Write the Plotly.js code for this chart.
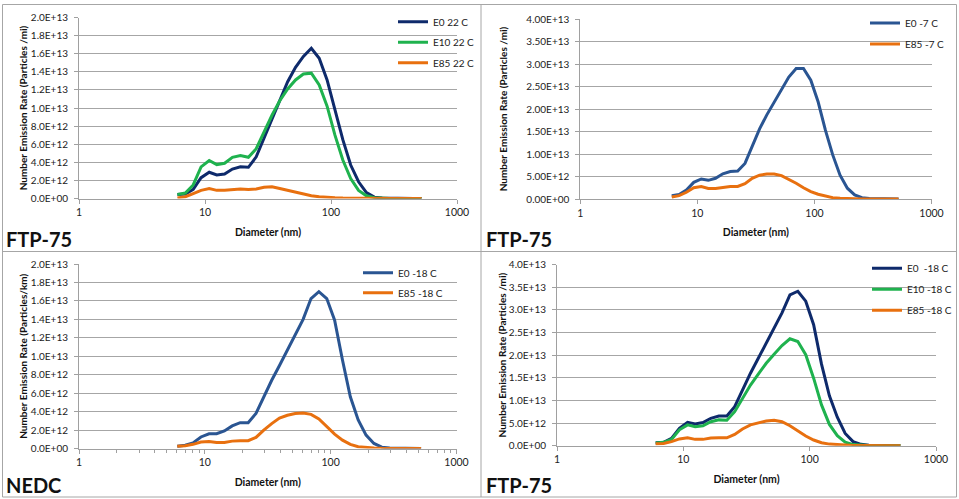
<!DOCTYPE html>
<html>
<head>
<meta charset="utf-8">
<script src="https://cdn.plot.ly/plotly-3.0.1.min.js"></script>
<style>
  html, body { margin: 0; padding: 0; background: #ffffff; }
  #chart { width: 959px; height: 499px; }
</style>
</head>
<body>
<div id="chart"></div>
<script>
// Particle size bins (mobility diameter, nm)
const diameter = [6.04, 6.98, 8.06, 9.31, 10.8, 12.4, 14.3, 16.5, 19.1, 22.1, 25.5, 29.4,
  34.0, 39.2, 45.3, 52.3, 60.4, 69.8, 80.6, 93.1, 107.5, 124.1, 143.3, 165.5,
  191.1, 220.7, 254.8, 294.3, 339.8, 392.4, 453.2, 523.3];

// FTP-75, 22 C (particles / mi)
const ftp22_E0 = [0.44e12, 0.5e12, 1.0e12, 2.3e12, 2.9e12, 2.6e12, 2.7e12, 3.25e12, 3.5e12, 3.45e12, 4.6e12, 6.65e12,
  8.9e12, 10.9e12, 12.9e12, 14.5e12, 15.7e12, 16.6e12, 15.5e12, 13.1e12, 9.8e12, 6.5e12, 3.7e12, 1.85e12,
  0.65e12, 0.15e12, 0.05e12, 0.02e12, 0.01e12, 0.005e12, 0.003e12, 0.002e12];
const ftp22_E10 = [0.45e12, 0.6e12, 1.5e12, 3.5e12, 4.2e12, 3.75e12, 3.9e12, 4.55e12, 4.75e12, 4.55e12, 5.5e12, 7.4e12,
  9.2e12, 10.8e12, 12.1e12, 13.1e12, 13.75e12, 13.85e12, 12.55e12, 10.2e12, 7.0e12, 4.25e12, 2.2e12, 0.9e12,
  0.3e12, 0.08e12, 0.02e12, 0.01e12, 0.005e12, 0.003e12, 0.002e12, 0.001e12];
const ftp22_E85 = [0.07e12, 0.2e12, 0.55e12, 0.9e12, 1.1e12, 0.9e12, 0.9e12, 1.0e12, 1.05e12, 1.0e12, 1.05e12, 1.25e12,
  1.3e12, 1.1e12, 0.9e12, 0.65e12, 0.45e12, 0.3e12, 0.2e12, 0.12e12, 0.08e12, 0.05e12, 0.03e12, 0.02e12,
  0.01e12, 0.01e12, 0.005e12, 0.003e12, 0.002e12, 0.001e12, 0.001e12, 0.001e12];

// FTP-75, -7 C (particles / mi)
const ftpM7_E0 = [0.75e12, 1.0e12, 2.0e12, 3.7e12, 4.45e12, 4.15e12, 4.6e12, 5.6e12, 6.1e12, 6.2e12, 7.9e12, 11.9e12,
  15.6e12, 18.7e12, 21.6e12, 24.4e12, 27.1e12, 29.0e12, 29.0e12, 26.4e12, 21.6e12, 15.3e12, 9.8e12, 5.3e12,
  2.4e12, 0.9e12, 0.3e12, 0.1e12, 0.05e12, 0.02e12, 0.01e12, 0.01e12];
const ftpM7_E85 = [0.45e12, 0.75e12, 1.5e12, 2.5e12, 2.75e12, 2.35e12, 2.35e12, 2.65e12, 2.8e12, 2.8e12, 3.4e12, 4.6e12,
  5.3e12, 5.55e12, 5.55e12, 5.2e12, 4.4e12, 3.5e12, 2.5e12, 1.65e12, 1.05e12, 0.6e12, 0.3e12, 0.15e12,
  0.07e12, 0.04e12, 0.02e12, 0.01e12, 0.01e12, 0.005e12, 0.005e12, 0.003e12];

// NEDC, -18 C (particles / km)
const nedcM18_E0 = [0.25e12, 0.35e12, 0.6e12, 1.25e12, 1.6e12, 1.6e12, 1.9e12, 2.45e12, 2.8e12, 2.8e12, 3.8e12, 5.6e12,
  7.4e12, 9.0e12, 10.65e12, 12.3e12, 14.0e12, 16.25e12, 17.0e12, 16.25e12, 13.9e12, 9.6e12, 5.6e12, 3.1e12,
  1.45e12, 0.55e12, 0.15e12, 0.05e12, 0.02e12, 0.01e12, 0.005e12, 0.003e12];
const nedcM18_E85 = [0.25e12, 0.3e12, 0.45e12, 0.7e12, 0.75e12, 0.65e12, 0.65e12, 0.8e12, 0.85e12, 0.85e12, 1.2e12, 2.0e12,
  2.7e12, 3.3e12, 3.6e12, 3.8e12, 3.85e12, 3.7e12, 3.2e12, 2.35e12, 1.55e12, 0.9e12, 0.45e12, 0.2e12,
  0.1e12, 0.05e12, 0.02e12, 0.01e12, 0.005e12, 0.003e12, 0.002e12, 0.001e12];

// FTP-75, -18 C (particles / mi)
const ftpM18_E0 = [0.65e12, 0.75e12, 1.6e12, 3.85e12, 5.15e12, 4.8e12, 5.1e12, 6.05e12, 6.55e12, 6.55e12, 8.6e12, 12.3e12,
  16.0e12, 19.3e12, 22.6e12, 26.0e12, 29.3e12, 33.3e12, 34.1e12, 31.9e12, 26.7e12, 18.0e12, 11.0e12, 6.3e12,
  2.7e12, 0.9e12, 0.3e12, 0.1e12, 0.05e12, 0.02e12, 0.01e12, 0.01e12];
const ftpM18_E10 = [0.6e12, 0.75e12, 1.4e12, 3.5e12, 4.6e12, 4.2e12, 4.4e12, 5.3e12, 5.7e12, 5.6e12, 7.5e12, 10.5e12,
  13.4e12, 15.8e12, 18.2e12, 20.2e12, 22.1e12, 23.6e12, 23.0e12, 20.1e12, 14.9e12, 9.0e12, 4.7e12, 2.2e12,
  0.8e12, 0.25e12, 0.08e12, 0.03e12, 0.01e12, 0.005e12, 0.003e12, 0.002e12];
const ftpM18_E85 = [0.45e12, 0.5e12, 0.9e12, 1.5e12, 1.75e12, 1.4e12, 1.4e12, 1.7e12, 1.75e12, 1.75e12, 2.5e12, 3.7e12,
  4.6e12, 5.1e12, 5.45e12, 5.6e12, 5.3e12, 4.4e12, 3.25e12, 2.15e12, 1.25e12, 0.65e12, 0.35e12, 0.2e12,
  0.1e12, 0.05e12, 0.02e12, 0.01e12, 0.005e12, 0.003e12, 0.002e12, 0.001e12];

// Tick values and labels
const xTickVals = [1, 10, 100, 1000];
const xTickText = ['1', '10', '100', '1000'];
const yTicks2e13 = [0, 2e12, 4e12, 6e12, 8e12, 1e13, 1.2e13, 1.4e13, 1.6e13, 1.8e13, 2e13];
const yLabels2e13 = ['0.0E+00', '2.0E+12', '4.0E+12', '6.0E+12', '8.0E+12', '1.0E+13', '1.2E+13', '1.4E+13', '1.6E+13', '1.8E+13', '2.0E+13'];
const yTicks4e13 = [0, 5e12, 1e13, 1.5e13, 2e13, 2.5e13, 3e13, 3.5e13, 4e13];
const yLabels4e13two = ['0.00E+00', '5.00E+12', '1.00E+13', '1.50E+13', '2.00E+13', '2.50E+13', '3.00E+13', '3.50E+13', '4.00E+13'];
const yLabels4e13one = ['0.0E+00', '5.0E+12', '1.0E+13', '1.5E+13', '2.0E+13', '2.5E+13', '3.0E+13', '3.5E+13', '4.0E+13'];

const W = 959, H = 499;
const FONT = 'Lato, "Open Sans", sans-serif';
const NAVY = '#0E2A6B', BLUE = '#2A5592', GREEN = '#1FB24E', ORANGE = '#E8700F';
const GRID = '#A6A6A6', AXIS = '#A0A0A0';

const px = v => v / W;
const py = v => 1 - v / H;

function series(n, name, y, color, legend) {
  return {
    type: 'scatter', mode: 'lines', x: diameter, y: y, name: name,
    xaxis: 'x' + (n === 1 ? '' : n), yaxis: 'y' + (n === 1 ? '' : n),
    legend: legend, legendgroup: name + n,
    line: { color: color, width: 3 },
    hoverinfo: 'x+y+name'
  };
}

const traces = [
  series(1, 'E0 22 C', ftp22_E0, NAVY, 'legend'),
  series(1, 'E10 22 C', ftp22_E10, GREEN, 'legend'),
  series(1, 'E85 22 C', ftp22_E85, ORANGE, 'legend'),
  series(2, 'E0 -7 C', ftpM7_E0, BLUE, 'legend2'),
  series(2, 'E85 -7 C', ftpM7_E85, ORANGE, 'legend2'),
  series(3, 'E0 -18 C', nedcM18_E0, BLUE, 'legend3'),
  series(3, 'E85 -18 C', nedcM18_E85, ORANGE, 'legend3'),
  series(4, 'E0  -18 C', ftpM18_E0, NAVY, 'legend4'),
  series(4, 'E10 -18 C', ftpM18_E10, GREEN, 'legend4'),
  series(4, 'E85 -18 C', ftpM18_E85, ORANGE, 'legend4')
];

const minorVals = [];
for (const dec of [1, 10, 100]) for (let k = 2; k <= 9; k++) minorVals.push(k * dec);

function xAxis(domain, anchor, withMinor) {
  const ax = {
    type: 'log', range: [0, 3], domain: domain, anchor: anchor,
    tickmode: 'array', tickvals: xTickVals, ticktext: xTickText,
    ticks: 'outside', ticklen: 4, tickcolor: AXIS, tickwidth: 1,
    showline: true, linecolor: AXIS, linewidth: 1,
    showgrid: false, zeroline: false,
    tickfont: { family: FONT, size: 10.5, color: '#222' },
    title: { text: 'Diameter (nm)', standoff: 11, font: { family: FONT, size: 10.5, color: '#111', weight: 'bold' } },
    fixedrange: true
  };
  if (withMinor) {
    ax.minor = { tickmode: 'array', tickvals: minorVals, ticks: 'outside', ticklen: 3, tickcolor: AXIS, showgrid: false };
  }
  return ax;
}

function yAxis(domain, anchor, maxVal, vals, labels, title, standoff) {
  return {
    range: [0, maxVal], domain: domain, anchor: anchor,
    tickmode: 'array', tickvals: vals, ticktext: labels,
    ticks: 'outside', ticklen: 4, tickcolor: AXIS, tickwidth: 1,
    ticklabelstandoff: 4,
    showline: true, linecolor: AXIS, linewidth: 1,
    showgrid: true, gridcolor: GRID, gridwidth: 1, zeroline: false,
    tickfont: { family: FONT, size: 10, color: '#222' },
    title: { text: title, standoff: standoff, font: { family: FONT, size: 10, color: '#111', weight: 'bold' } },
    fixedrange: true
  };
}

function legendAt(left, top, gap) {
  return {
    x: px(left), y: py(top), xanchor: 'left', yanchor: 'top',
    bgcolor: 'rgba(0,0,0,0)', borderwidth: 0,
    traceorder: 'grouped', tracegroupgap: gap, itemwidth: 30,
    font: { family: FONT, size: 10, color: '#222' }
  };
}

function panelLabel(text, left, mid) {
  return {
    xref: 'paper', yref: 'paper', x: px(left), y: py(mid), xanchor: 'left', yanchor: 'middle',
    text: text, showarrow: false, borderpad: 0,
    font: { family: FONT, size: 20, color: '#111', weight: 'bold' }
  };
}

const frame = { type: 'line', xref: 'paper', yref: 'paper', line: { color: '#A6A6A6', width: 1 } };

const layout = {
  width: W, height: H, autosize: false,
  margin: { l: 0, r: 0, t: 0, b: 0, pad: 0 },
  paper_bgcolor: '#ffffff', plot_bgcolor: '#ffffff',
  showlegend: true,
  xaxis: xAxis([px(79), px(457)], 'y', false),
  yaxis: yAxis([py(198.5), py(17.5)], 'x', 2e13, yTicks2e13, yLabels2e13, 'Number Emission Rate (Particles /mi)', 1),
  xaxis2: xAxis([px(580.3), px(931.5)], 'y2', false),
  yaxis2: yAxis([py(199), py(19)], 'x2', 4e13, yTicks4e13, yLabels4e13two, 'Number Emission Rate (Particles /mi)', 16),
  xaxis3: xAxis([px(79), px(456.5)], 'y3', true),
  yaxis3: yAxis([py(448.5), py(264)], 'x3', 2e13, yTicks2e13, yLabels2e13, 'Number Emission Rate (Particles/km)', 1),
  xaxis4: xAxis([px(557), px(936)], 'y4', false),
  yaxis4: yAxis([py(445.7), py(264.5)], 'x4', 4e13, yTicks4e13, yLabels4e13one, 'Number Emission Rate (Particles /mi)', 0),
  legend: legendAt(393, 7.2, 1.5),
  legend2: legendAt(865, 8.5, 2),
  legend3: legendAt(358, 258.2, 1),
  legend4: legendAt(867, 253.8, 2),
  annotations: [
    panelLabel('FTP-75', 5, 239),
    panelLabel('FTP-75', 485, 239),
    panelLabel('NEDC', 5, 485),
    panelLabel('FTP-75', 485, 485)
  ],
  shapes: [
    Object.assign({}, frame, { x0: px(2.5), x1: px(956.5), y0: py(4.5), y1: py(4.5) }),
    Object.assign({}, frame, { x0: px(2.5), x1: px(956.5), y0: py(497), y1: py(497) }),
    Object.assign({}, frame, { x0: px(2.5), x1: px(2.5), y0: py(4.5), y1: py(497) }),
    Object.assign({}, frame, { x0: px(956.5), x1: px(956.5), y0: py(4.5), y1: py(497) }),
    Object.assign({}, frame, { x0: px(481), x1: px(481), y0: py(4.5), y1: py(497) }),
    Object.assign({}, frame, { x0: px(2.5), x1: px(956.5), y0: py(251.5), y1: py(251.5) })
  ]
};

Plotly.newPlot('chart', traces, layout, { displayModeBar: false, staticPlot: true });
</script>
</body>
</html>
